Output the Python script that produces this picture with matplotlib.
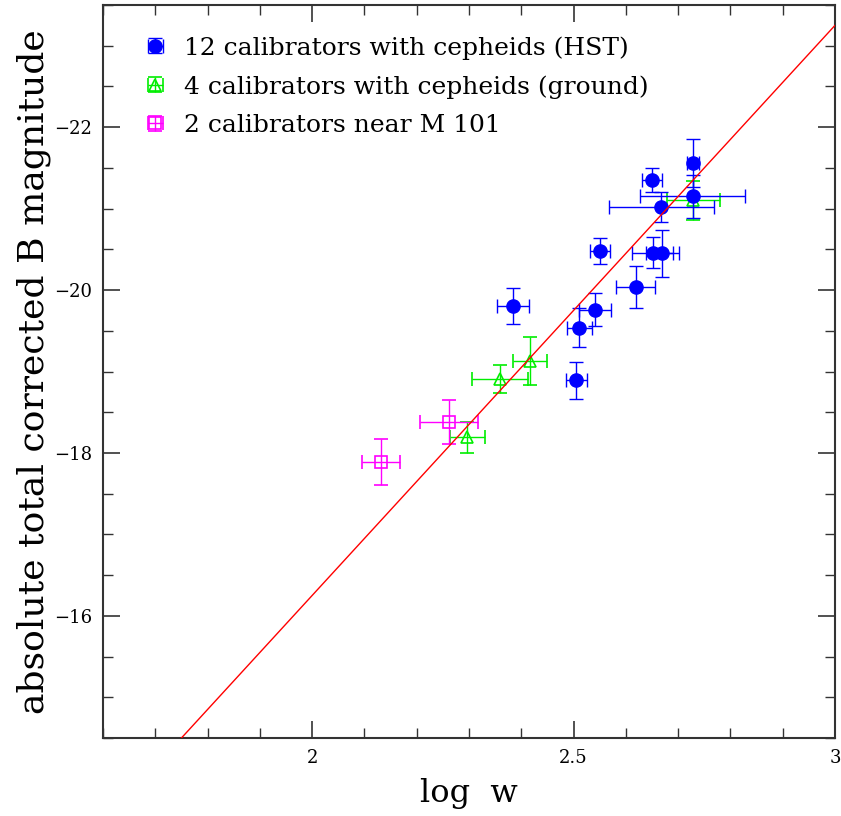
import matplotlib
matplotlib.use("Agg")
import matplotlib.pyplot as plt
from matplotlib.ticker import MultipleLocator, FuncFormatter
from matplotlib.legend_handler import HandlerErrorbar
import numpy as np

# HST cepheid calibrators
hst_logw = [2.728, 2.650, 2.728, 2.668, 2.550, 2.651, 2.670, 2.619, 2.384, 2.541, 2.511, 2.505]
hst_mag = [-21.56, -21.35, -21.15, -21.02, -20.48, -20.46, -20.45, -20.04, -19.80, -19.76, -19.54, -18.89]
hst_xerr = [0.012, 0.019, 0.100, 0.100, 0.019, 0.039, 0.031, 0.037, 0.031, 0.030, 0.024, 0.020]
hst_yerr = [0.29, 0.15, 0.26, 0.18, 0.16, 0.19, 0.29, 0.26, 0.22, 0.20, 0.24, 0.23]

# ground-based cepheid calibrators
gnd_logw = [2.729, 2.417, 2.359, 2.297]
gnd_mag = [-21.10, -19.13, -18.91, -18.19]
gnd_xerr = [0.051, 0.033, 0.053, 0.034]
gnd_yerr = [0.24, 0.29, 0.17, 0.19]

# calibrators near M 101
m101_logw = [2.262, 2.132]
m101_mag = [-18.38, -17.89]
m101_xerr = [0.055, 0.036]
m101_yerr = [0.27, 0.28]

# fitted relation M = slope * log w + intercept
fit_slope = -7.0
fit_intercept = -2.25

labels = ["12 calibrators with cepheids (HST)",
          "4 calibrators with cepheids (ground)",
          "2 calibrators near M 101"]

plt.rcParams['font.family'] = ['DejaVu Serif']
plt.rcParams['mathtext.fontset'] = 'dejavuserif'

fig = plt.figure(figsize=(8.41, 8.16), dpi=100)
ax = fig.add_axes([103/841, 1-738/816, 732/841, 733/816])

ekw = dict(linestyle='none', elinewidth=1.0, capsize=5, capthick=1.0)
e1 = ax.errorbar(hst_logw, hst_mag, xerr=hst_xerr, yerr=hst_yerr, fmt='o',
                 color='#0000ff', ecolor='#0000ff', markersize=9.5, zorder=3, **ekw)
e2 = ax.errorbar(gnd_logw, gnd_mag, xerr=gnd_xerr, yerr=gnd_yerr, fmt='^',
                 color='#00ee00', ecolor='#00ee00', markersize=9, markerfacecolor='none',
                 markeredgewidth=1.2, zorder=2, **ekw)
e3 = ax.errorbar(m101_logw, m101_mag, xerr=m101_xerr, yerr=m101_yerr, fmt='s',
                 color='#ff00ff', ecolor='#ff00ff', markersize=8, markerfacecolor='none',
                 markeredgewidth=1.2, zorder=2, **ekw)

xl = np.array([1.6, 3.0])
ax.plot(xl, fit_slope * xl + fit_intercept, color='red', linewidth=1.0, zorder=4)

ax.set_xlim(1.6, 3.0)
ax.set_ylim(-14.5, -23.5)

ax.xaxis.set_major_locator(MultipleLocator(0.5))
ax.xaxis.set_minor_locator(MultipleLocator(0.1))
ax.yaxis.set_major_locator(MultipleLocator(2))
ax.yaxis.set_minor_locator(MultipleLocator(0.5))

def xfmt(v, pos):
    if abs(v - 1.5) < 1e-6:
        return ''
    return f"{v:g}"

def yfmt(v, pos):
    return f"\u2212{abs(int(round(v)))}"

ax.xaxis.set_major_formatter(FuncFormatter(xfmt))
ax.yaxis.set_major_formatter(FuncFormatter(yfmt))

ax.tick_params(which='both', direction='in', top=True, right=True, colors='#333333',
               labelcolor='black', labelsize=13)
ax.tick_params(which='major', length=12, width=1.2)
ax.tick_params(which='minor', length=7, width=1.0)
ax.tick_params(axis='x', pad=8)
ax.tick_params(axis='y', pad=8)
for s in ax.spines.values():
    s.set_color('#333333')
    s.set_linewidth(1.5)

ax.set_xlabel('log  w', fontsize=23, labelpad=8)
ax.set_ylabel('absolute total corrected B magnitude', fontsize=26, labelpad=2)

leg = ax.legend([e1, e2, e3], labels, loc='upper left', frameon=False, fontsize=18,
                bbox_to_anchor=(0.025, 0.985), handlelength=1.1, handletextpad=0.6,
                labelspacing=0.62, borderpad=0.3,
                handler_map={type(e1): HandlerErrorbar(xerr_size=0.3, yerr_size=0.3)})

fig.savefig('out.png', dpi=100)
